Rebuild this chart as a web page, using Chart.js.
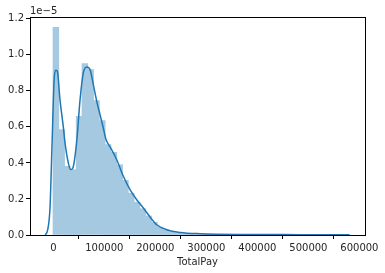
<!DOCTYPE html>
<html>
<head>
<meta charset="utf-8">
<script src="https://cdn.jsdelivr.net/npm/chart.js@4.4.1/dist/chart.umd.min.js"></script>
<style>
  html, body { margin: 0; padding: 0; background: #fff; }
  #wrap { width: 385px; height: 273px; position: relative; }
</style>
</head>
<body>
<div id="wrap"><canvas id="payChart"></canvas></div>
<script>
// Histogram bins (bin centres, TotalPay) and densities in units of 1e-5
const binCenters = [
  5064, 16428, 27792, 39156, 50520, 61884, 73248, 84612, 95976, 107340,
  118704, 130068, 141432, 152796, 164160, 175524, 186888, 198252, 209616, 220980,
  232344, 243708, 255072, 266436, 277800, 289164, 300528, 311892, 323256, 334620,
  345984, 357348, 368712, 380076, 391440, 402804, 414168, 425532, 436896, 448260,
  459624, 470988, 482352, 493716, 505080, 516444, 527808, 539172, 550536, 561900
];
const binDensity = [
  1.152, 0.585, 0.381, 0.363, 0.659, 0.952, 0.918, 0.746, 0.635, 0.502,
  0.459, 0.39, 0.303, 0.232, 0.182, 0.146, 0.106, 0.07, 0.044, 0.029,
  0.018, 0.012, 0.008, 0.005, 0.004, 0.003, 0.002, 0.0015, 0.001, 0.001,
  0.0008, 0.0006, 0.0005, 0.0004, 0.0004, 0.0003, 0.0003, 0.0003, 0.0002, 0.0002,
  0.0002, 0.0002, 0.0001, 0.0001, 0.0001, 0.0001, 0.0001, 0.0001, 0.0001, 0.0001
];

// KDE curve points
const kdeX = [
  -15900, -11000, -6500, -2500, 1400, 4300, 7800, 13100, 19600, 23000,
  29400, 33700, 38000, 45900, 52400, 58800, 65500, 72000, 78400, 85100,
  91600, 98000, 103300, 111000, 124300, 137300, 150400, 163500, 176500, 189600,
  202700, 222400, 248400, 287600, 385000, 483000, 581000
];
const kdeY = [
  0.0, 0.03, 0.15, 0.5, 0.85, 0.915, 0.91, 0.75, 0.6, 0.51,
  0.4, 0.363, 0.37, 0.52, 0.75, 0.9, 0.933, 0.918, 0.835, 0.742,
  0.668, 0.594, 0.53, 0.49, 0.418, 0.326, 0.252, 0.196, 0.15, 0.1,
  0.057, 0.029, 0.014, 0.007, 0.003, 0.002, 0.001
];

const xTicks = [0, 100000, 200000, 300000, 400000, 500000, 600000];
const yTicks = [0, 0.2, 0.4, 0.6, 0.8, 1.0, 1.2];

const FONT = { family: 'DejaVu Sans', size: 10 };
const INK = '#262626';

// box around the plot + the "1e-5" offset label
const framePlugin = {
  id: 'frame',
  afterDraw(chart) {
    const { ctx, chartArea: a } = chart;
    ctx.save();
    ctx.strokeStyle = '#000';
    ctx.lineWidth = 1;
    ctx.strokeRect(Math.round(a.left) + 0.5, Math.round(a.top) + 0.5,
      Math.round(a.right - a.left), Math.round(a.bottom - a.top));
    ctx.fillStyle = INK;
    ctx.font = '10px "DejaVu Sans"';
    ctx.textBaseline = 'alphabetic';
    ctx.textAlign = 'left';
    ctx.fillText('1e\u22125', a.left, a.top - 3);
    ctx.restore();
  }
};

new Chart(document.getElementById('payChart'), {
  type: 'bar',
  data: {
    datasets: [
      {
        type: 'line',
        data: kdeX.map((x, i) => ({ x: x, y: kdeY[i] })),
        borderColor: '#1f77b4',
        borderWidth: 1.5,
        pointRadius: 0,
        cubicInterpolationMode: 'monotone',
        fill: false,
        order: 0
      },
      {
        type: 'bar',
        data: binCenters.map((x, i) => ({ x: x, y: binDensity[i] })),
        backgroundColor: '#a5c9e1',   // #1f77b4 at alpha 0.4 on white
        borderWidth: 0,
        barPercentage: 1,
        categoryPercentage: 1,
        order: 1
      }
    ]
  },
  options: {
    responsive: true,
    maintainAspectRatio: false,
    animation: false,
    layout: { padding: { left: 0, right: 20, top: 17, bottom: 5 } },
    plugins: {
      legend: { display: false },
      tooltip: { enabled: false }
    },
    scales: {
      x: {
        type: 'linear',
        offset: false,
        min: -45700,
        max: 611000,
        afterBuildTicks: s => { s.ticks = xTicks.map(v => ({ value: v })); },
        afterFit: s => { s.height = 33; },
        grid: { drawOnChartArea: false, drawTicks: true, tickLength: 4, color: '#000' },
        border: { display: true, color: '#000' },
        ticks: { color: INK, font: FONT, padding: 3, maxRotation: 0, autoSkip: false,
          callback: v => String(v) },
        title: { display: true, text: 'TotalPay', color: INK, font: FONT, padding: { top: 0, bottom: 0 } }
      },
      y: {
        min: 0,
        max: 1.21,
        afterBuildTicks: s => { s.ticks = yTicks.map(v => ({ value: v })); },
        afterFit: s => { s.width = 30; },
        grid: { drawOnChartArea: false, drawTicks: true, tickLength: 4, color: '#000' },
        border: { display: true, color: '#000' },
        ticks: { color: INK, font: FONT, padding: 2, callback: v => v.toFixed(1) }
      }
    }
  },
  plugins: [framePlugin]
});
</script>
</body>
</html>
